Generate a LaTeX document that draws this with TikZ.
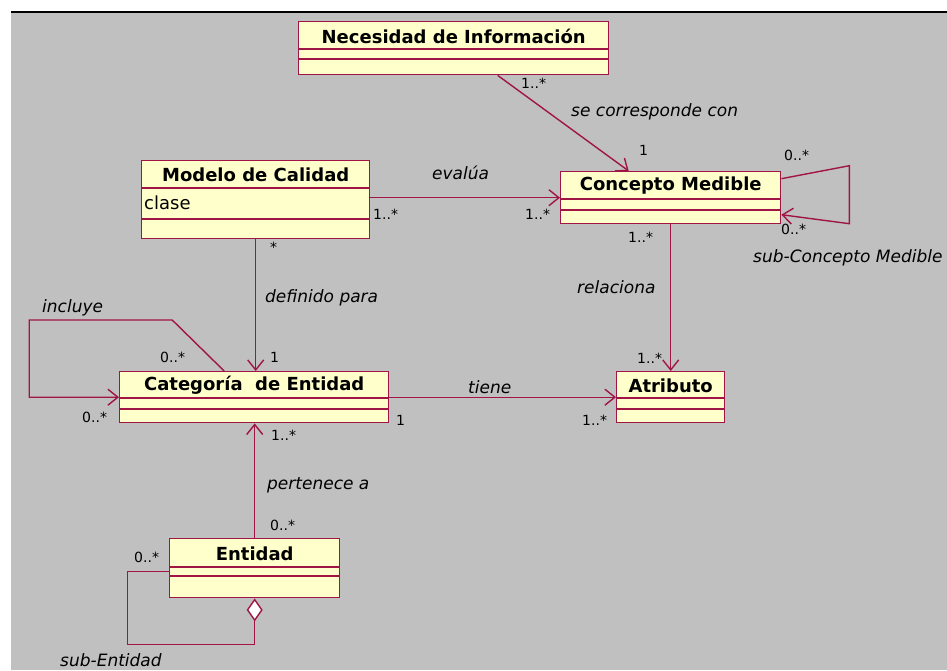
\documentclass[tikz,border=0pt]{standalone}
\usepackage{fontspec}
\setmainfont{DejaVu Sans}
\usetikzlibrary{arrows.meta}

\definecolor{granate}{RGB}{160,20,70}
\definecolor{amarillo}{RGB}{255,255,204}
\definecolor{fondo}{RGB}{192,192,192}

% clase UML: nombre, esquina, ancho, alto, linea 1, linea 2, titulo
\newcommand{\clase}[7]{%
  \node[caja, minimum width=#3pt, minimum height=#4pt] (#1) at (#2) {};
  \draw[linea] ([yshift=-#5pt]#1.north west) -- ([yshift=-#5pt]#1.north east)
               ([yshift=-#6pt]#1.north west) -- ([yshift=-#6pt]#1.north east);
  \node[titulo] (#1-t) at ([yshift=-#5pt/2-1pt]#1.north) {#7};
}

\begin{document}
\begin{tikzpicture}[x=1pt,y=-1pt,
    caja/.style={rectangle, draw=granate, fill=amarillo, line width=1.4pt, inner sep=0pt, anchor=north west},
    linea/.style={draw=granate, line width=1.4pt},
    asoc/.style={linea, -{Straight Barb[length=10pt,width=16pt]}},
    titulo/.style={font=\fontsize{18}{20}\selectfont\bfseries, inner sep=0pt},
    rol/.style={font=\fontsize{17}{19}\selectfont\itshape, anchor=west, inner sep=0pt},
    mult/.style={font=\fontsize{14}{16}\selectfont, anchor=west, inner sep=0pt}]
    \useasboundingbox (0,0) rectangle (947,670);
    \clip (0,0) rectangle (947,670);
    \fill[fondo] (11,13) rectangle (947,670);
    \draw[line width=2pt] (11,12) -- (947,12);

    % clases
    \clase{necesidad}{298,21}{310}{53}{28}{38}{Necesidad de Información}
    \clase{modelo}{141,160}{228}{78}{28}{59}{Modelo de Calidad}
    \clase{concepto}{560,171}{220}{52}{28}{39}{Concepto Medible}
    \clase{categoria}{119,371}{269}{51}{27}{38}{Categoría\ \ de Entidad}
    \clase{atributo}{616,371}{108}{51}{27}{38}{Atributo}
    \clase{entidad}{169,538}{170}{59}{29}{38}{Entidad}
    \node[font=\fontsize{18}{20}\selectfont, anchor=west, inner sep=0pt] (modelo-attr) at (144,203) {clase};

    % asociaciones
    \draw[asoc] ([xshift=44pt]necesidad.south) -- ([xshift=-42pt]concepto.north);
    \draw[asoc] (modelo.east |- concepto.west) -- (concepto.west);
    \draw[asoc] (modelo.south) -- (modelo.south |- categoria.north);
    \draw[asoc] (concepto.south) -- (atributo.north);
    \draw[asoc] (categoria.east) -- (atributo.west);
    \draw[asoc] (entidad.north) -- (entidad.north |- categoria.south);

    % reflexivas
    \draw[asoc] ([yshift=19pt]concepto.east) -- ++(68,-13) -- ++(0,58) -- ([yshift=-17pt]concepto.east);
    \draw[asoc] ([xshift=-30pt]categoria.north) -- ++(-52,-51) -- ++(-143,0) |- (categoria.west);
    \draw[linea, {Diamond[fill=white,length=23pt,width=16pt]}-] (entidad.south) -- ++(0,46) -- ++(-127,0) |- ([yshift=-3pt]entidad.west);

    % roles y multiplicidades
    \node[mult] (m-nec) at (521,83) {1..*};
    \node[rol] (r-corr) at (571,112) {se corresponde con};
    \node[mult] (m-conc1) at (639,150) {1};
    \node[rol] (r-eval) at (432,173) {evalúa};
    \node[mult] (m-mod) at (373,214) {1..*};
    \node[mult] (m-conc2) at (525,214) {1..*};
    \node[mult] (m-sub1) at (784,155) {0..*};
    \node[mult] (m-sub2) at (781,229) {0..*};
    \node[rol] (r-subc) at (753,258) {sub-Concepto Medible};
    \node[mult] (m-conc3) at (628,237) {1..*};
    \node[rol] (r-rel) at (577,287) {relaciona};
    \node[mult] (m-atr1) at (637,358) {1..*};
    \node[rol] (r-tiene) at (468,387) {tiene};
    \node[mult] (m-atr2) at (582,420) {1..*};
    \node[mult] (m-cat1) at (396,420) {1};
    \node[mult] (m-mod2) at (270,247) {*};
    \node[rol] (r-def) at (265,298) {definido para};
    \node[mult] (m-cat2) at (270,357) {1};
    \node[rol] (r-incl) at (42,308) {incluye};
    \node[mult] (m-incl1) at (160,357) {0..*};
    \node[mult] (m-incl2) at (82,417) {0..*};
    \node[mult] (m-cat3) at (271,435) {1..*};
    \node[rol] (r-pert) at (267,485) {pertenece a};
    \node[mult] (m-ent1) at (270,525) {0..*};
    \node[mult] (m-ent2) at (134,557) {0..*};
    \node[rol] (r-sube) at (60,660) {sub-Entidad};
\end{tikzpicture}
\end{document}
